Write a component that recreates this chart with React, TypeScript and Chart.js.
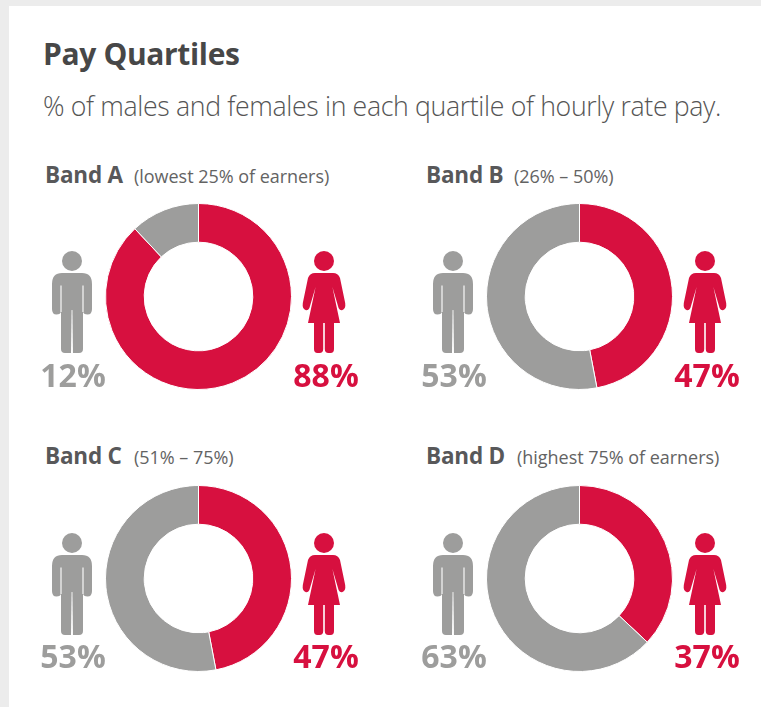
import React, { useEffect, useRef } from "react";
import { Chart, registerables } from "chart.js";

Chart.register(...registerables);

const bandNames = ["Band A", "Band B", "Band C", "Band D"];
const bandRanges = ["(lowest 25% of earners)", "(26% – 50%)", "(51% – 75%)", "(highest 75% of earners)"];
const femaleShare = [88, 47, 47, 37];
const maleShare = [12, 53, 53, 63];
const seriesLabels = ["Females", "Males"];

const RED = "#d7103f";
const GREY = "#9d9d9c";
const FONT = '"Open Sans", "Noto Sans", sans-serif';

const columnShift = [0, 381, 0, 381];
const rowShift = [0, 0, 282, 282];
const labelRowShift = [0, 0, 281, 281];
const rangeX = [134, 514, 134, 517];

function Donut({ female, male, left, top }: { female: number; male: number; left: number; top: number }) {
  const ref = useRef<HTMLCanvasElement | null>(null);
  useEffect(() => {
    const chart = new Chart(ref.current as HTMLCanvasElement, {
      type: "doughnut",
      data: {
        labels: seriesLabels,
        datasets: [
          {
            data: [female, male],
            backgroundColor: [RED, GREY],
            borderColor: "#ffffff",
            borderWidth: 1,
            radius: 93,
            cutout: "58.4%",
          },
        ],
      },
      options: {
        responsive: false,
        animation: false,
        events: [],
        plugins: { legend: { display: false }, tooltip: { enabled: false } },
      },
    });
    return () => chart.destroy();
  }, [female, male]);
  return (
    <canvas
      ref={ref}
      width={201}
      height={201}
      style={{ position: "absolute", left, top, width: 201, height: 201 }}
    />
  );
}

// Pictograms are decoration beside each ring, laid out from the figure's centre and shoulder line.
function MaleIcon({ x, y }: { x: number; y: number }) {
  return (
    <svg style={{ position: "absolute", left: x - 25, top: y - 25 }} width={50} height={110} viewBox="-25 -25 50 110">
      <circle cx={0} cy={-12} r={10} fill={GREY} />
      <path
        fill={GREY}
        d="M-10,0 H10 Q20,0 20,11 V36 Q20,41.5 15.5,41.5 Q12,41.5 11,39 V76 Q11,80 7,80 H-7 Q-11,80 -11,76 V39 Q-12,41.5 -15.5,41.5 Q-20,41.5 -20,36 V11 Q-20,0 -10,0 Z"
      />
      <path stroke="#fff" strokeWidth={1.1} fill="none" d="M-11,12.5 V39 M11,12.5 V39" />
      <path fill="#fff" d="M-0.4,37 H0.4 L1,81 H-1 Z" />
    </svg>
  );
}

function FemaleIcon({ x, y }: { x: number; y: number }) {
  return (
    <svg style={{ position: "absolute", left: x - 25, top: y - 25 }} width={50} height={110} viewBox="-25 -25 50 110">
      <circle cx={0} cy={-12} r={10} fill={RED} />
      <path
        fill={RED}
        d="M-9,0 H9 Q14,0 16,5 L21.2,30 Q22,36 18,37.3 Q15,37.5 14,33 L8.4,14 L16,50 H-16 L-8.4,14 L-14,33 Q-15,37.5 -18,37.3 Q-22,36 -21.2,30 L-16,5 Q-14,0 -9,0 Z"
      />
      <path fill={RED} d="M-10,50 H-0.8 V76 Q-0.8,80 -4.5,80 H-6.5 Q-10,80 -10,76 Z M0.8,50 H10 V76 Q10,80 6.5,80 H4.5 Q0.8,80 0.8,76 Z" />
    </svg>
  );
}

type TextProps = { x: number; y: number; size: number; weight: number; color: string; children: React.ReactNode; center?: boolean; spacing?: number };

// Places one line of text with its baseline at y.
function Label({ x, y, size, weight, color, children, center, spacing }: TextProps) {
  return (
    <div
      style={{
        position: "absolute",
        left: x,
        top: y - size * 1.069,
        fontFamily: FONT,
        fontSize: size,
        fontWeight: weight,
        lineHeight: `${size * 1.362}px`,
        color,
        whiteSpace: "nowrap",
        letterSpacing: spacing ?? 0,
        transform: center ? "translateX(-50%)" : undefined,
      }}
    >
      {children}
    </div>
  );
}

export default function App() {
  return (
    <div style={{ position: "absolute", left: 0, top: 0, width: 761, height: 707, background: "#ececec", overflow: "hidden" }}>
      <div style={{ position: "absolute", left: 9, top: 6, width: 752, height: 701, background: "#ffffff" }} />
      <Label x={43} y={66} size={30} weight={700} color="#474747" spacing={-0.35}>
        Pay Quartiles
      </Label>
      <Label x={43} y={117} size={26.7} weight={300} color="#555555" spacing={-0.35}>
        % of males and females in each quartile of hourly rate pay.
      </Label>
      {bandNames.map((name, i) => {
        const dx = columnShift[i];
        const dy = rowShift[i];
        const ly = labelRowShift[i];
        return (
          <React.Fragment key={name}>
            <Label x={45 + dx} y={184 + ly} size={22.5} weight={700} color="#58585a" spacing={-0.2}>
              {name}
            </Label>
            <Label x={rangeX[i]} y={183 + ly} size={18} weight={400} color="#636363" spacing={-0.03}>
              {bandRanges[i]}
            </Label>
            <Donut female={femaleShare[i]} male={maleShare[i]} left={98 + dx} top={196 + dy} />
            <MaleIcon x={72 + dx} y={273 + dy} />
            <FemaleIcon x={324 + dx} y={273 + dy} />
            <Label x={73 + dx} y={387 + ly} size={32} weight={700} color={GREY} center>
              {maleShare[i]}%
            </Label>
            <Label x={326 + dx} y={387 + ly} size={32} weight={700} color={RED} center>
              {femaleShare[i]}%
            </Label>
          </React.Fragment>
        );
      })}
    </div>
  );
}
